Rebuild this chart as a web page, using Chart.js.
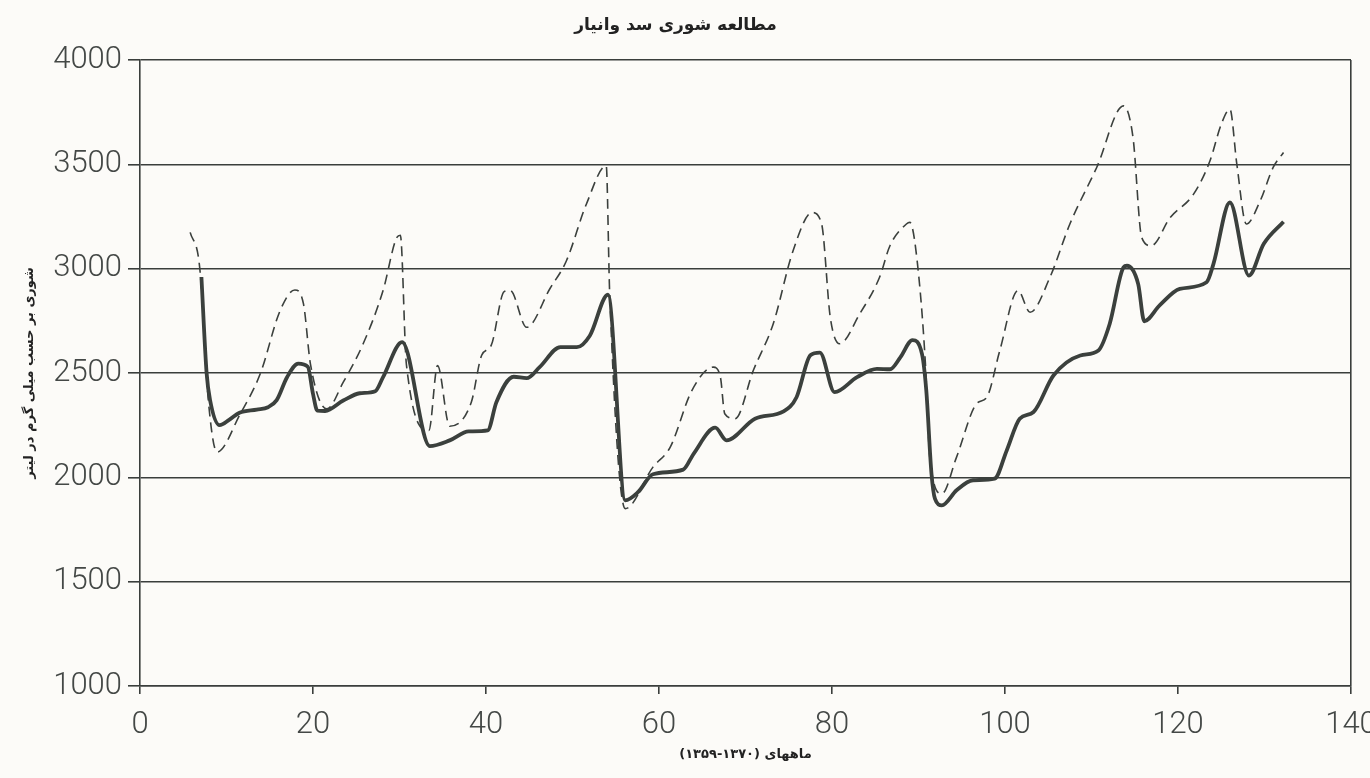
<!DOCTYPE html>
<html>
<head>
<meta charset="utf-8">
<script src="https://cdn.jsdelivr.net/npm/chart.js@4"></script>
<style>
html,body{margin:0;padding:0;background:#fcfbf8;}
#wrap{width:1370px;height:778px;position:relative;}
</style>
</head>
<body>
<div id="wrap"><canvas id="c" width="1370" height="778"></canvas></div>
<script>
// ---- data ----
const solidMonths = [7.1, 7.7, 8.1, 9.2, 10.3, 11.5, 13.5, 14.8, 15.8, 17.0, 18.3, 19.4, 20.0, 20.5, 21.4, 23.5, 25.4, 27.2, 28.1, 30.3,
  33.5, 35.8, 38.0, 40.2, 41.2, 43.2, 44.7, 46.2, 48.6, 50.5, 52.0, 54.1, 56.1, 57.6, 59.3, 62.8, 64.0, 66.5, 67.8, 71.1,
  74.4, 75.9, 77.5, 78.6, 80.3, 82.9, 85.2, 86.7, 87.9, 89.3, 90.4, 90.9, 91.5, 91.9, 92.7, 94.4, 96.3, 98.8, 100.2, 101.7,
  103.3, 105.6, 108.7, 110.8, 112.1, 113.7, 114.1, 115.4, 116.1, 117.9, 120.2, 123.3, 124.1, 126.0, 128.2, 129.9, 132.2];
const solidValues = [2960, 2500, 2370, 2250, 2275, 2310, 2325, 2336, 2370, 2480, 2545, 2530, 2400, 2320, 2318, 2368, 2403, 2413, 2480, 2648,
  2150, 2177, 2220, 2225, 2360, 2482, 2475, 2528, 2624, 2624, 2679, 2875, 1890, 1930, 2015, 2037, 2113, 2238, 2177, 2281,
  2316, 2384, 2585, 2598, 2408, 2480, 2520, 2518, 2575, 2658, 2592, 2416, 2018, 1898, 1866, 1938, 1986, 1994, 2129, 2281,
  2313, 2488, 2584, 2608, 2735, 3006, 3014, 2926, 2748, 2825, 2903, 2935, 3023, 3317, 2967, 3118, 3225];

const dashedMonths = [5.8, 6.9, 7.9, 8.9, 11.6, 13.9, 16.2, 17.9, 18.9, 19.7, 21.6, 23.5, 25.8, 28.1, 29.7, 30.1, 30.8, 33.4, 34.4, 35.8,
  38.3, 39.5, 40.6, 42.1, 42.8, 44.7, 47.4, 49.3, 51.6, 53.9, 54.3, 56.1, 59.3, 61.3, 63.8, 66.3, 67.1, 67.6, 68.8, 70.9,
  73.2, 75.5, 77.7, 78.8, 79.8, 80.9, 83.2, 85.5, 86.7, 88.6, 89.0, 89.8, 90.8, 91.3, 92.7, 94.4, 96.7, 97.9, 99.4, 101.5,
  102.9, 105.2, 107.5, 110.6, 113.7, 114.8, 115.8, 116.9, 119.1, 121.8, 123.7, 125.0, 126.0, 126.8, 127.9, 129.5, 131.0, 132.2];
const dashedValues = [3174, 3006, 2368, 2121, 2305, 2496, 2799, 2898, 2831, 2544, 2328, 2456, 2640, 2895, 3150, 3160, 2540, 2225, 2536, 2245,
  2360, 2585, 2632, 2890, 2895, 2719, 2905, 3038, 3309, 3493, 2879, 1850, 2049, 2145, 2416, 2528, 2480, 2305, 2281, 2512,
  2735, 3086, 3269, 3214, 2767, 2640, 2783, 2959, 3110, 3214, 3222, 3054, 2544, 2097, 1922, 2097, 2352, 2384, 2608, 2895,
  2791, 2959, 3214, 3485, 3780, 3628, 3150, 3110, 3245, 3357, 3517, 3692, 3764, 3501, 3214, 3325, 3485, 3557];

const yTicks = [1000, 1500, 2000, 2500, 3000, 3500, 4000];
const xTicks = [0, 20, 40, 60, 80, 100, 120, 140];

const chartTitle = 'مطالعه شوری سد وانیار';
const xTitle = '\u202Bماههای (۱۳۷۰-۱۳۵۹)\u202C';
const yTitle = 'شوری بر حسب میلی گرم در لیتر';

// ---- chart ----
const lineColor = '#3a3e3c';
const textColor = '#444846';
const toPoints = (xs, ys) => xs.map((x, i) => ({x: x, y: ys[i]}));

new Chart(document.getElementById('c'), {
  type: 'line',
  data: {
    datasets: [
      {
        label: 'solid',
        data: toPoints(solidMonths, solidValues),
        borderColor: '#3b403d',
        borderWidth: 3.8,
        pointRadius: 0,
        cubicInterpolationMode: 'monotone',
        fill: false
      },
      {
        label: 'dashed',
        data: toPoints(dashedMonths, dashedValues),
        borderColor: '#3b403d',
        borderWidth: 1.6,
        borderDash: [10, 6],
        pointRadius: 0,
        cubicInterpolationMode: 'monotone',
        fill: false
      }
    ]
  },
  options: {
    responsive: false,
    animation: false,
    layout: {padding: {top: 3, right: 19, bottom: 0, left: 0}},
    plugins: {
      legend: {display: false},
      tooltip: {enabled: false},
      title: {
        display: true,
        text: chartTitle,
        font: {family: 'DejaVu Sans', size: 17, weight: 'bold'},
        color: '#222',
        padding: {top: 12, bottom: 24.6}
      }
    },
    scales: {
      x: {
        type: 'linear',
        min: xTicks[0],
        max: xTicks[xTicks.length - 1],
        afterBuildTicks: s => { s.ticks = xTicks.map(v => ({value: v})); },
        ticks: {
          font: {family: 'Roboto', size: 31, weight: '300'},
          color: textColor,
          padding: 13,
          maxRotation: 0,
          autoSkip: false,
          callback: v => String(v)
        },
        grid: {
          color: c => (c.tick && c.tick.value === 140) ? lineColor : 'rgba(0,0,0,0)',
          tickColor: lineColor,
          tickLength: 8,
          lineWidth: 1.6
        },
        border: {display: true, color: lineColor, width: 1.6},
        title: {
          display: true,
          text: xTitle,
          font: {family: 'DejaVu Sans', size: 13, weight: 'bold'},
          color: '#222',
          padding: {top: 4, bottom: 16}
        },
        afterFit: s => { s.height = 92; s.paddingRight = 19; s.paddingLeft = 0; }
      },
      y: {
        min: yTicks[0],
        max: yTicks[yTicks.length - 1],
        afterBuildTicks: s => { s.ticks = yTicks.map(v => ({value: v})); },
        ticks: {
          font: {family: 'Roboto', size: 31, weight: '300'},
          color: textColor,
          padding: 6,
          autoSkip: false,
          callback: v => String(v)
        },
        grid: {
          color: lineColor,
          tickColor: lineColor,
          tickLength: 12,
          lineWidth: 1.6
        },
        border: {display: true, color: lineColor, width: 1.6},
        title: {
          display: true,
          text: yTitle,
          font: {family: 'DejaVu Sans', size: 13, weight: 'bold'},
          color: '#222',
          padding: {top: 22, bottom: 0}
        },
        afterFit: s => { s.width = 140; s.paddingTop = 0; s.paddingBottom = 0; }
      }
    }
  }
});
</script>
</body>
</html>
